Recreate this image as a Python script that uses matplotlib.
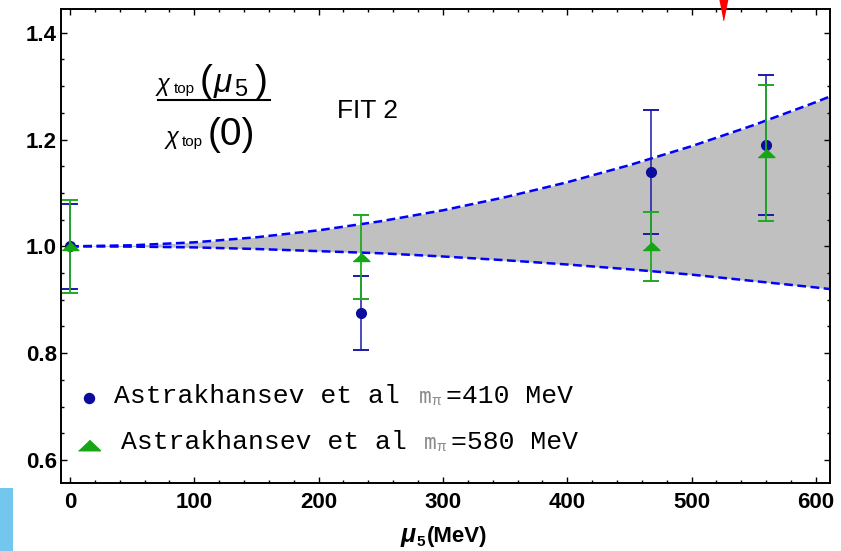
import numpy as np
import matplotlib
matplotlib.use("Agg")
from matplotlib import pyplot as plt
from matplotlib.lines import Line2D
from matplotlib.patches import Rectangle

plt.rcParams['font.family'] = ['Liberation Sans', 'DejaVu Sans']

# band limits (FIT 2)
mu_band = [0, 50, 100, 150, 200, 250, 300, 350, 400, 450, 500, 550, 600, 615]
band_hi = [1.000, 1.002, 1.0075, 1.017, 1.030, 1.047, 1.0675, 1.092, 1.120,
           1.152, 1.1875, 1.227, 1.270, 1.284]
band_lo = [1.000, 0.9995, 0.998, 0.995, 0.991, 0.987, 0.981, 0.974, 0.966,
           0.957, 0.947, 0.935, 0.923, 0.919]

# lattice points
mu_pts = [0, 234, 467, 560]
chi_410 = [1.0, 0.875, 1.139, 1.189]
err_410 = [0.079, 0.069, 0.116, 0.131]
chi_580 = [1.0, 0.980, 1.0, 1.175]
err_580 = [0.087, 0.078, 0.064, 0.127]

xticks = [0, 100, 200, 300, 400, 500, 600]
yticks = [0.6, 0.8, 1.0, 1.2, 1.4]

W, H = 841, 551
def fx(px):
    return px / W
def fy(py):
    return 1 - py / H

blue_pt = '#0c0c9c'
green_pt = '#14a614'
tri = [(-1, -0.48), (1, -0.48), (0, 0.48)]

fig = plt.figure(figsize=(W / 100, H / 100), dpi=100)
ax = fig.add_axes([fx(60.7), fy(483.3), fx(830) - fx(60.7), fy(9) - fy(483.3)])

ax.fill_between(mu_band, band_lo, band_hi, color='#c0c0c0', lw=0, zorder=1)
for yy in (band_hi, band_lo):
    ax.plot(mu_band, yy, color='#0000ff', lw=1.8, ls=(0, (3.5, 1.8)), zorder=2)

ax.errorbar(mu_pts, chi_410, yerr=err_410, fmt='o', color=blue_pt, ms=7,
            ecolor='#1a1aaa', elinewidth=1.1, capsize=5.8, capthick=1.4, zorder=3)
ax.errorbar(mu_pts, chi_580, yerr=err_580, fmt='none', ecolor='#1eaa1e',
            elinewidth=1.3, capsize=5.8, capthick=1.4, zorder=4)
ax.plot(mu_pts, chi_580, ls='none', marker=tri, ms=12, color=green_pt, zorder=5)

# red marker sticking out of the top
ax.plot([525], [1.448], ls='none', marker=[(-0.4, 1), (0.4, 1), (0, -1)],
        ms=18.7, color='#ff0000', clip_on=False, zorder=6)

ax.set_xlim(-7.5, 611.4)
ax.set_ylim(0.5563, 1.4444)
ax.set_xticks(xticks)
ax.set_yticks(yticks)
ax.set_xticks(np.arange(0, 611, 20), minor=True)
ax.set_yticks(np.arange(0.6, 1.44, 0.05), minor=True)
ax.set_xticklabels([str(v) for v in xticks])
ax.set_yticklabels(['%.1f' % v for v in yticks])
ax.tick_params(which='both', direction='in', top=True, right=True, width=1.0)
ax.tick_params(which='major', length=4.3, labelsize=16)
ax.tick_params(which='minor', length=2.4)
ax.tick_params(axis='x', pad=6.5)
ax.tick_params(axis='y', pad=2.7)
for lab in ax.get_xticklabels() + ax.get_yticklabels():
    lab.set_fontweight('bold')
for s in ax.spines.values():
    s.set_linewidth(1.4)

# x label pieces
fig.text(fx(401), fy(542), 'μ', fontsize=18, fontweight='bold', style='italic')
fig.text(fx(416), fy(546), '5', fontsize=11, fontweight='bold')
fig.text(fx(427), fy(542), '(MeV)', fontsize=16, fontweight='bold')

# ratio label
fig.text(fx(157), fy(91), 'χ', fontsize=17, style='italic')
fig.text(fx(174), fy(93), 'top', fontsize=11)
fig.text(fx(200), fy(92), '(', fontsize=28)
fig.text(fx(214), fy(92), 'μ', fontsize=24, style='italic')
fig.text(fx(234), fy(96), '5', fontsize=17)
fig.text(fx(255), fy(92), ')', fontsize=28)
fig.add_artist(Line2D([fx(158), fx(270)], [fy(99.5), fy(99.5)], color='black', lw=1.5))
fig.text(fx(166), fy(144), 'χ', fontsize=17, style='italic')
fig.text(fx(182), fy(146), 'top', fontsize=11)
fig.text(fx(208), fy(145), '(0)', fontsize=28)

fig.text(fx(337), fy(118), 'FIT 2', fontsize=19)

# legend
mono = 'Liberation Mono'
fig.add_artist(Line2D([fx(89)], [fy(398)], marker='o', ms=7.2, color=blue_pt, ls='none'))
fig.add_artist(Line2D([fx(89)], [fy(445)], marker=tri, ms=15.8, color=green_pt, ls='none'))
for yb, x0, xm, xe, txt in [(403, 114, 419, 446, '=410 MeV'),
                            (449, 121, 424, 451, '=580 MeV')]:
    fig.text(fx(x0), fy(yb), 'Astrakhansev et al', family=mono, fontsize=19)
    fig.text(fx(xm), fy(yb), 'm', family='DejaVu Sans Mono', fontsize=15, color='#8a8a8a')
    fig.text(fx(xm + 12), fy(yb + 2), 'π', fontsize=10, color='#8a8a8a')
    fig.text(fx(xe), fy(yb), txt, family=mono, fontsize=19)

fig.add_artist(Rectangle((0, fy(551)), 13 / W, 63 / H, transform=fig.transFigure,
                         color='#73c6ee', lw=0))

fig.savefig('out.png', dpi=100)
